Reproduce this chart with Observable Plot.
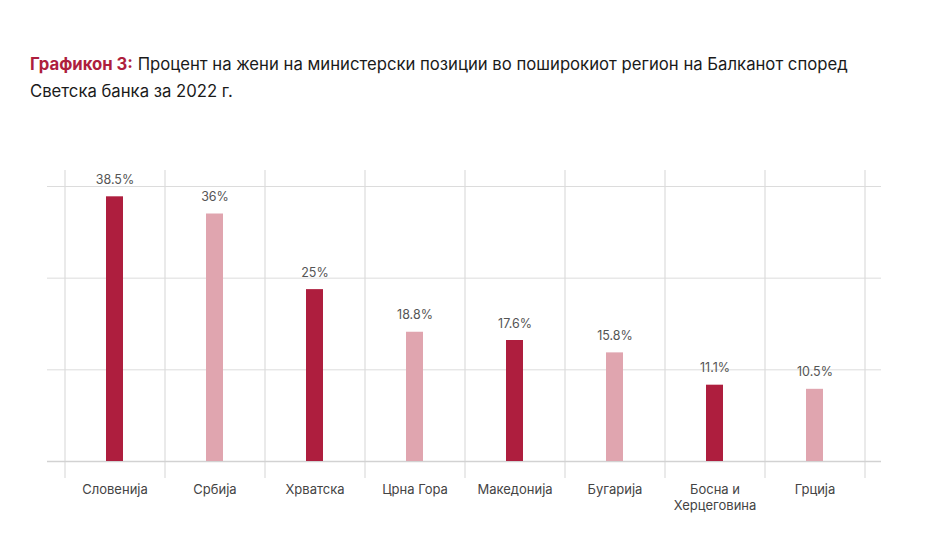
<!DOCTYPE html>
<html>
<head>
<meta charset="utf-8">
<script src="https://cdn.jsdelivr.net/npm/d3@7"></script>
<script src="https://cdn.jsdelivr.net/npm/@observablehq/plot@0.6"></script>
<style>
  html, body { margin: 0; padding: 0; background: #fff; }
  #title { font-family: Inter, "Noto Sans", sans-serif; font-size: 16.7px; line-height: 27px; color: #1a1a1a; padding: 51px 0 0 30px; height: 54px; box-sizing: content-box; white-space: nowrap; }
  #title b { color: #AE1E3E; font-weight: 700; }
  #chart svg { display: block; }
</style>
</head>
<body>
<div id="title"><b>Графикон 3:</b> Процент на жени на министерски позиции во поширокиот регион на Балканот според<br>Светска банка за 2022 г.</div>
<div id="chart"></div>
<script>
const countries = ["Словенија", "Србија", "Хрватска", "Црна Гора", "Македонија", "Бугарија", "Босна и Херцеговина", "Грција"];
const values = [38.5, 36, 25, 18.8, 17.6, 15.8, 11.1, 10.5];
const valueLabels = ["38.5%", "36%", "25%", "18.8%", "17.6%", "15.8%", "11.1%", "10.5%"];
const tickLabels = ["Словенија", "Србија", "Хрватска", "Црна Гора", "Македонија", "Бугарија", "Босна и\nХерцеговина", "Грција"];
const gridValues = [0, 40 / 3, 80 / 3, 40];
const palette = ["#AE1E3E", "#E0A5AF"];

const data = countries.map((c, i) => ({country: c, value: values[i], label: valueLabels[i], shade: i % 2}));
const lastCountry = countries[countries.length - 1];

const chart = Plot.plot({
  width: 938,
  height: 431,
  marginLeft: 64,
  marginRight: 74,
  marginTop: 81,
  marginBottom: 75,
  style: {fontFamily: "Inter, 'Noto Sans', sans-serif", fontSize: "12.5px", color: "#444", background: "#fff"},
  x: {domain: countries, paddingInner: 0.83, paddingOuter: 0.415, label: null},
  y: {domain: [0, 40], axis: null},
  color: {domain: [0, 1], range: palette},
  marks: [
    Plot.ruleY(gridValues.slice(1), {stroke: "#dcdcdc", strokeWidth: 1, insetLeft: -17, insetRight: -17}),
    Plot.ruleX(countries, {x: d => d, dx: -50, stroke: "#dcdcdc", strokeWidth: 1.2, insetTop: -16, insetBottom: -17}),
    Plot.ruleX([lastCountry], {x: d => d, dx: 50, stroke: "#dcdcdc", strokeWidth: 1.2, insetTop: -16, insetBottom: -17}),
    Plot.ruleY([0], {stroke: "#d2d2d2", strokeWidth: 1.6, insetLeft: -17, insetRight: -17}),
    Plot.barY(data, {x: "country", y: "value", fill: d => palette[d.shade]}),
    Plot.text(data, {x: "country", y: "value", text: "label", dy: -17, fill: "#555", fontSize: 12.5}),
    Plot.axisX({tickSize: 0, tickPadding: 21, fill: "#444", fontSize: 13, lineHeight: 1.25,
      tickFormat: d => tickLabels[countries.indexOf(d)]})
  ]
});
document.getElementById("chart").appendChild(chart);
</script>
</body>
</html>
